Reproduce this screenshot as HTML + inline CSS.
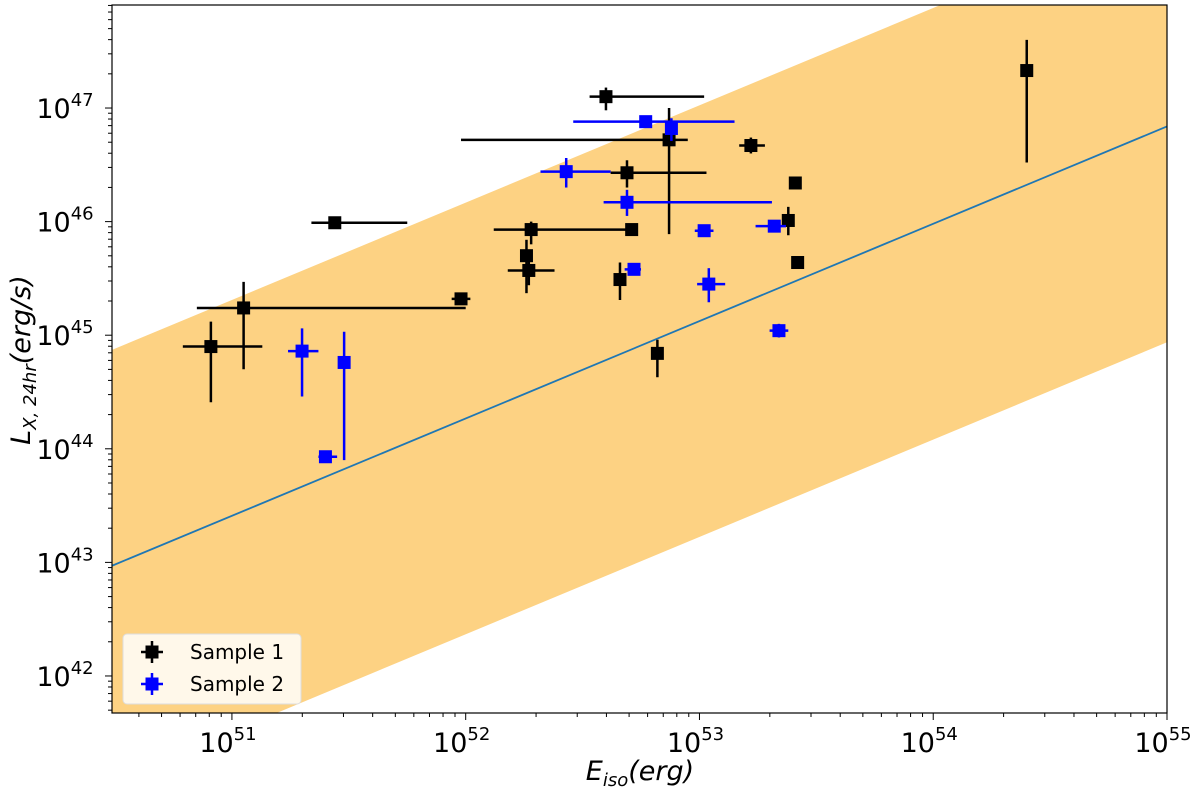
<!DOCTYPE html>
<html><head><meta charset="utf-8"><style>
body{margin:0;background:#fff}
svg{display:block;font-family:"DejaVu Sans","Liberation Sans",sans-serif}
</style></head><body>
<svg id="chart" width="1200" height="789"></svg>
<script>
const blackLogE=[50.91,51.05,51.44,51.98,52.26,52.28,52.27,52.60,52.66,52.69,52.71,52.82,52.87,53.22,53.38,53.41,53.42,54.40];
const blackLogL=[44.90,45.24,45.99,45.32,45.70,45.93,45.57,47.10,45.49,46.43,45.93,44.84,46.72,46.67,46.01,46.34,45.64,47.33];
const blackELo=[50.79,50.85,51.34,51.94,52.26,52.12,52.18,52.53,52.66,52.62,52.71,52.82,51.98,53.17,53.38,53.41,53.42,54.40];
const blackEHi=[51.13,52.00,51.75,52.02,52.26,52.69,52.38,53.02,52.66,53.03,52.71,52.82,52.95,53.28,53.38,53.41,53.42,54.40];
const blackLLo=[44.41,44.70,45.99,45.27,45.37,45.80,45.44,46.98,45.31,46.30,45.93,44.63,45.89,46.60,45.88,46.34,45.64,46.52];
const blackLHi=[45.12,45.47,45.99,45.35,45.84,46.00,45.68,47.18,45.64,46.54,45.93,44.96,47.00,46.74,46.13,46.34,45.64,47.60];
const blueLogE=[51.30,51.48,51.40,52.43,52.69,52.72,52.77,52.88,53.02,53.04,53.32,53.34];
const blueLogL=[44.86,44.76,43.93,46.44,46.17,45.58,46.88,46.82,45.92,45.45,45.96,45.04];
const blueELo=[51.24,51.48,51.37,52.32,52.59,52.68,52.46,52.88,52.98,52.99,53.24,53.30];
const blueEHi=[51.37,51.48,51.45,52.62,53.31,52.75,53.15,52.88,53.06,53.11,53.37,53.38];
const blueLLo=[44.46,43.90,43.93,46.30,46.05,45.58,46.88,46.71,45.92,45.29,45.96,44.98];
const blueLHi=[45.06,45.03,43.93,46.56,46.28,45.58,46.88,46.91,45.92,45.59,45.96,45.10];
const xTicks=[51,52,53,54,55];
const yTicks=[42,43,44,45,46,47];
const fitIntercept=43.41, fitSlope=0.857, bandHalfWidth=1.9;

const NS='http://www.w3.org/2000/svg';
const svg=document.getElementById('chart');
const L=112,R=1167,T=5,B=713;
const xMin=50.487,xMax=55,yMin=41.674,yMax=47.907;
const X=v=>L+(v-xMin)/(xMax-xMin)*(R-L);
const Y=v=>B-(v-yMin)/(yMax-yMin)*(B-T);
function mk(tag,attrs,parent){const e=document.createElementNS(NS,tag);for(const k in attrs)e.setAttribute(k,attrs[k]);(parent||svg).appendChild(e);return e;}
const defs=mk('defs',{});const cp=mk('clipPath',{id:'clip'},defs);mk('rect',{x:L,y:T,width:R-L,height:B-T},cp);
const plot=mk('g',{'clip-path':'url(#clip)'});


const fit=e=>fitIntercept+fitSlope*(e-51);
const band=mk('polygon',{points:[[xMin,fit(xMin)+bandHalfWidth],[xMax,fit(xMax)+bandHalfWidth],[xMax,fit(xMax)-bandHalfWidth],[xMin,fit(xMin)-bandHalfWidth]].map(p=>X(p[0])+','+Y(p[1])).join(' '),fill:'#fdd283'},plot);


const fl=mk('line',{x1:X(xMin),y1:Y(fit(xMin)),x2:X(xMax),y2:Y(fit(xMax)),stroke:'#1f77b4','stroke-width':1.8},plot);


function series(E,Lv,eLo,eHi,lLo,lHi,color,name){
  const g=mk('g',{},plot);
  
  
  for(let i=0;i<E.length;i++){
    if(eHi[i]>eLo[i])mk('line',{x1:X(eLo[i]),x2:X(eHi[i]),y1:Y(Lv[i]),y2:Y(Lv[i]),stroke:color,'stroke-width':2.5},g);
    if(lHi[i]>lLo[i])mk('line',{x1:X(E[i]),x2:X(E[i]),y1:Y(lLo[i]),y2:Y(lHi[i]),stroke:color,'stroke-width':2.5},g);
    const r=mk('rect',{x:X(E[i])-6.5,y:Y(Lv[i])-6.5,width:13,height:13,fill:color},g);
    
    
  }
}
series(blackLogE,blackLogL,blackELo,blackEHi,blackLLo,blackLHi,'#000','sample-1-series');
series(blueLogE,blueLogL,blueELo,blueEHi,blueLLo,blueLHi,'#0000ff','sample-2-series');
const fr=mk('rect',{x:L,y:T,width:R-L,height:B-T,fill:'none',stroke:'#000','stroke-width':1.2});


for(let d=50;d<=55;d++)for(let m=1;m<10;m++){const v=d+Math.log10(m);if(v<xMin||v>xMax)continue;const x=X(v);mk('line',{x1:x,x2:x,y1:B,y2:B+(m==1?7:4),stroke:'#000','stroke-width':1});}
for(let d=41;d<=48;d++)for(let m=1;m<10;m++){const v=d+Math.log10(m);if(v<yMin||v>yMax)continue;const y=Y(v);mk('line',{x1:L,x2:L-(m==1?7:4),y1:y,y2:y,stroke:'#000','stroke-width':1});}
xTicks.forEach(t=>{const tx=mk('text',{x:X(t)-4,y:B+39,'font-size':27,'text-anchor':'middle'});tx.innerHTML='10<tspan dy="-12" font-size="18">'+t+'</tspan>';});
yTicks.forEach(t=>{const tx=mk('text',{x:L-47,y:Y(t)+10,'font-size':27,'text-anchor':'middle'});tx.innerHTML='10<tspan dy="-12" font-size="18">'+t+'</tspan>';});
const xl=mk('text',{x:640,y:780,'font-size':27,'text-anchor':'middle','font-style':'italic'});

xl.innerHTML='E<tspan dy="6" font-size="18">iso</tspan><tspan dy="-6">(erg)</tspan>';
const yl=mk('text',{x:0,y:0,'font-size':27,'text-anchor':'middle','font-style':'italic',transform:'translate(30,360) rotate(-90)'});

yl.innerHTML='L<tspan dy="6" font-size="18">X, 24hr</tspan><tspan dy="-6">(erg/s)</tspan>';
const lg=mk('g',{});

mk('rect',{x:123,y:634,width:178,height:70,rx:4,fill:'#fff8ea',stroke:'#ddd'},lg);
[['#000','Sample 1',652],['#0000ff','Sample 2',684]].forEach(([c,s,y])=>{
  const e=mk('g',{},lg);
  mk('line',{x1:141,x2:163,y1:y,y2:y,stroke:c,'stroke-width':2.5},e);
  mk('line',{x1:152,x2:152,y1:y-11,y2:y+11,stroke:c,'stroke-width':2.5},e);
  mk('rect',{x:145.5,y:y-6.5,width:13,height:13,fill:c},e);
  const t=mk('text',{x:190,y:y+7,'font-size':20},e);t.textContent=s;
});
</script>
</body></html>
